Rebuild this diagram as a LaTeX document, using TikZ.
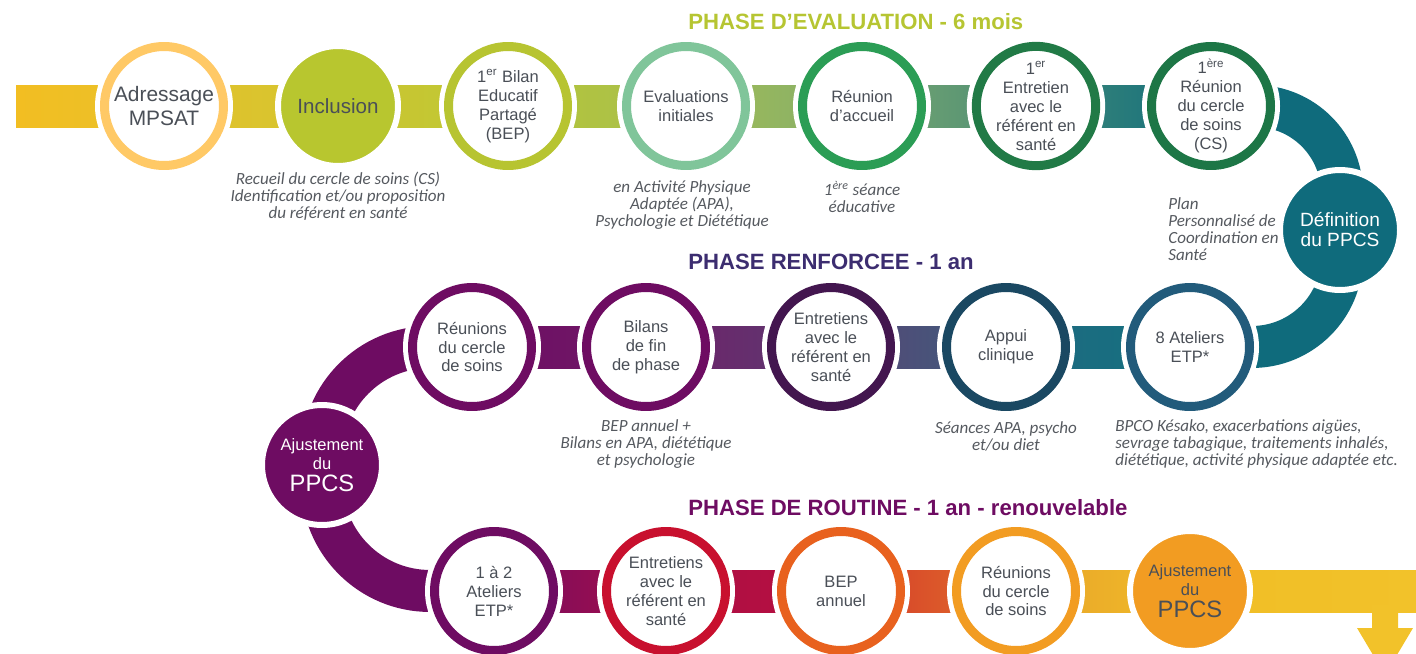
\documentclass[tikz,border=0pt]{standalone}
\usepackage{fontspec}
\setmainfont{Liberation Sans}
\newfontfamily\notefont{Carlito}
\usetikzlibrary{calc,backgrounds}

% text colours
\definecolor{txtgray}{HTML}{4A4F57}
\definecolor{notegray}{HTML}{55595F}
\definecolor{cTitA}{HTML}{B6C532}
\definecolor{cTitB}{HTML}{3C2D70}
\definecolor{cTitC}{HTML}{6E0C62}
% circle colours
\definecolor{cAdr}{HTML}{FFC966}
\definecolor{cIncl}{HTML}{B8C62F}
\definecolor{cBil}{HTML}{B7C431}
\definecolor{cEva}{HTML}{80C59A}
\definecolor{cAcc}{HTML}{2B9D55}
\definecolor{cEnt}{HTML}{217A46}
\definecolor{cRcs}{HTML}{1D7646}
\definecolor{cDef}{HTML}{0F6B7C}
\definecolor{cEtp}{HTML}{225B7B}
\definecolor{cApp}{HTML}{1A4862}
\definecolor{cEnr}{HTML}{43164F}
\definecolor{cPur}{HTML}{6E0C62}
\definecolor{cRed}{HTML}{C8102E}
\definecolor{cOra}{HTML}{E8611E}
\definecolor{cYor}{HTML}{F29C22}
% band colours
\definecolor{bA}{HTML}{F2BE22}\definecolor{bB}{HTML}{E9C12A}
\definecolor{bC}{HTML}{E4C22B}\definecolor{bD}{HTML}{D3C530}
\definecolor{bE}{HTML}{CEC631}\definecolor{bF}{HTML}{BCC734}
\definecolor{bG}{HTML}{B6C537}\definecolor{bH}{HTML}{A7BF50}
\definecolor{bI}{HTML}{A3BE55}\definecolor{bJ}{HTML}{82AC6C}
\definecolor{bK}{HTML}{78A670}\definecolor{bL}{HTML}{4A8D76}
\definecolor{bM}{HTML}{3E8878}\definecolor{bN}{HTML}{116D7D}
\definecolor{mA}{HTML}{6E0C62}\definecolor{mB}{HTML}{6F1A68}
\definecolor{mC}{HTML}{702068}\definecolor{mD}{HTML}{5C3A72}
\definecolor{mE}{HTML}{584475}\definecolor{mF}{HTML}{3D5E7D}
\definecolor{mG}{HTML}{216A80}\definecolor{mH}{HTML}{127080}
\definecolor{rA}{HTML}{780C5F}\definecolor{rB}{HTML}{A50E4A}
\definecolor{rC}{HTML}{AC0E45}\definecolor{rD}{HTML}{B8103F}
\definecolor{rE}{HTML}{D3382A}\definecolor{rF}{HTML}{E2702A}
\definecolor{rG}{HTML}{E8A32A}\definecolor{rH}{HTML}{F0BC28}
\definecolor{rI}{HTML}{F0BE26}\definecolor{rJ}{HTML}{F2C22A}

\begin{document}
\begin{tikzpicture}[x=0.02cm, y=-0.02cm]
  \tikzset{
    ring/.style={circle, draw=#1, line width=0.18cm, fill=white, minimum size=2.38cm,
      inner sep=0pt, align=center, text=txtgray, font=\fontsize{9.4}{10.8}\selectfont,
      preaction={draw=white, line width=0.38cm}},
    disc/.style={circle, fill=#1, draw=white, line width=0.12cm, minimum size=2.4cm,
      inner sep=0pt, align=center, text=txtgray, font=\fontsize{9.4}{10.8}\selectfont},
    note/.style={align=center, text=notegray, inner sep=0pt,
      font=\notefont\itshape\fontsize{9.7}{9.7}\selectfont},
    phase/.style={anchor=west, inner sep=0pt, font=\bfseries\fontsize{12.6}{15}\selectfont}
  }
  \useasboundingbox (0,0) rectangle (1416,653);

  % band half width (px)
  \def\hw{21}

  % phase titles
  \node[phase, text=cTitA] (phA) at (688,22)  {PHASE D’EVALUATION - 6 mois};
  \node[phase, text=cTitB] (phB) at (688,262) {PHASE RENFORCEE - 1 an};
  \node[phase, text=cTitC] (phC) at (688,508) {PHASE DE ROUTINE - 1 an - renouvelable};

  % top row
  \coordinate (t0) at (16,106);
  \node[ring=cAdr, font=\fontsize{11.9}{13.6}\selectfont] (t1) at (164,106) {Adressage\\MPSAT};
  \node[disc=cIncl, font=\fontsize{11.7}{13.6}\selectfont] (t2) at (338,106) {Inclusion};
  \node[ring=cBil] (t3) at (508,106) {1\textsuperscript{er} Bilan\\Educatif\\Partagé\\(BEP)};
  \node[ring=cEva] (t4) at (686,106) {Evaluations\\initiales};
  \node[ring=cAcc] (t5) at (862,106) {Réunion\\d’accueil};
  \node[ring=cEnt] (t6) at (1036,106) {1\textsuperscript{er}\\Entretien\\avec le\\référent en\\santé};
  \node[ring=cRcs] (t7) at (1211,106) {1\textsuperscript{ère}\\Réunion\\du cercle\\de soins\\(CS)};
  \node[disc=cDef, text=white, font=\fontsize{10.9}{11.4}\selectfont] (def) at (1340,230) {Définition\\du PPCS};

  % middle row
  \node[ring=cEtp] (m1) at (1190,347) {8 Ateliers\\ETP*};
  \node[ring=cApp] (m2) at (1006,347) {Appui\\clinique};
  \node[ring=cEnr] (m3) at (831,347)  {Entretiens\\avec le\\référent en\\santé};
  \node[ring=cPur] (m4) at (646,347)  {Bilans\\de fin\\de phase};
  \node[ring=cPur] (m5) at (472,347)  {Réunions\\du cercle\\de soins};
  \node[disc=cPur, text=white] (adj1) at (322,465) {Ajustement\\du\\[2pt]{\fontsize{13.5}{13.6}\selectfont PPCS}};

  % bottom row
  \node[ring=cPur] (b1) at (494,591)  {1 à 2\\Ateliers\\ETP*};
  \node[ring=cRed] (b2) at (666,591)  {Entretiens\\avec le\\référent en\\santé};
  \node[ring=cOra] (b3) at (841,591)  {BEP\\annuel};
  \node[ring=cYor] (b4) at (1016,591) {Réunions\\du cercle\\de soins};
  \node[disc=cYor] (b5) at (1190,591) {Ajustement\\du\\[2pt]{\fontsize{13.5}{13.6}\selectfont PPCS}};
  \coordinate (b6) at (1416,591);

  % notes under the circles
  \node[note] (nIncl) at (338,196) {Recueil du cercle de soins (CS)\\Identification et/ou proposition\\du référent en santé};
  \node[note] (nEva) at (682,205) {en Activité Physique\\Adaptée (APA),\\Psychologie et Diététique};
  \node[note] (nAcc) at (862,197) {1\textsuperscript{ère} séance\\éducative};
  \node[note, align=left, anchor=west] (nDef) at (1168,229) {Plan\\Personnalisé de\\Coordination en\\Santé};
  \node[note] (nBil) at (646,444) {BEP annuel +\\Bilans en APA, diététique\\et psychologie};
  \node[note] (nApp) at (1006,436) {Séances APA, psycho\\et/ou diet};
  \node[note, align=left, anchor=west] (nEtp) at (1115,444) {BPCO Késako, exacerbations aigües,\\sevrage tabagique, traitements inhalés,\\diététique, activité physique adaptée etc.};

  \begin{scope}[on background layer]
    % straight parts of the band
    \foreach \a/\b/\ca/\cb in {t0/t1/bA/bB, t1/t2/bC/bD, t2/t3/bE/bF, t3/t4/bG/bH,
        t4/t5/bI/bJ, t5/t6/bK/bL, t6/t7/bM/bN,
        m5/m4/mA/mB, m4/m3/mC/mD, m3/m2/mE/mF, m2/m1/mG/mH,
        b1/b2/rA/rB, b2/b3/rC/rD, b3/b4/rE/rF, b4/b5/rG/rH, b5/b6/rI/rJ}
      \shade[left color=\ca, right color=\cb] ($(\a)+(0,-\hw)$) rectangle ($(\b)+(0,\hw)$);

    % bends
    \draw[line width=0.84cm, cDef] (t7.center) -- ++(44,0)
      arc[start angle=90, end angle=0, radius=1.74cm] -- ++(0,64)
      arc[start angle=0, end angle=-90, radius=1.8cm] -- (m1.center);
    \draw[line width=0.84cm, cPur] (m5.center) -- ++(-42,0)
      arc[start angle=90, end angle=180, radius=2.16cm] -- ++(0,28)
      arc[start angle=180, end angle=270, radius=2.16cm] -- (b1.center);

    % arrow going down at the end
    \fill[rJ] (1372,605) -- (1398,605) -- (1398,628) -- (1413,628) -- (1385,675)
      -- (1357,628) -- (1372,628) -- cycle;
  \end{scope}
\end{tikzpicture}
\end{document}
